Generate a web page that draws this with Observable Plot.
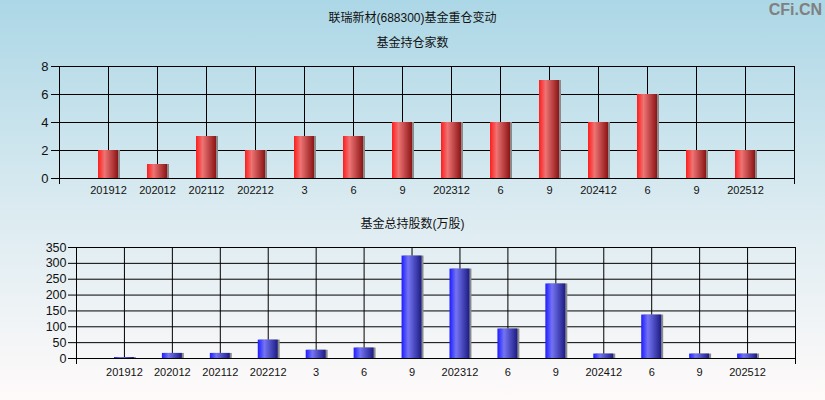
<!DOCTYPE html>
<html>
<head>
<meta charset="utf-8">
<script src="https://cdn.jsdelivr.net/npm/d3@7"></script>
<script src="https://cdn.jsdelivr.net/npm/@observablehq/plot@0.6"></script>
<style>
  html, body { margin: 0; padding: 0; }
  body { width: 825px; height: 400px; overflow: hidden; position: relative;
         background: linear-gradient(to bottom, #acd7e6 0%, #d9eaf0 50%, #fffafa 100%);
         font-family: "Liberation Sans", Arial, "Noto Sans CJK SC", sans-serif; }
  .t { position: absolute; left: 0; width: 825px; text-align: center; font-size: 12px; color: #111;
       font-family: "Liberation Sans", "Noto Sans CJK SC", sans-serif; line-height: 14px; }
  .chart { position: absolute; left: 0; }
  #wm { position: absolute; right: 3px; top: 1px; font: bold 16px "Liberation Sans", Arial, sans-serif; color: #808080; }
</style>
</head>
<body>
<div class="t" style="top:11px">联瑞新材(688300)基金重仓变动</div>
<div class="t" style="top:36px">基金持仓家数</div>
<div class="t" style="top:217px">基金总持股数(万股)</div>
<div id="wm">CFi.CN</div>
<div id="c1" class="chart" style="top:0px"></div>
<div id="c2" class="chart" style="top:200px"></div>
<script>
const labels = ["201912","202012","202112","202212","3","6","9","202312","6","9","202412","6","9","202512"];
const fundCounts = [2,1,3,2,3,3,4,4,4,7,4,6,2,2];
const fundShares = [3,16,16,58,26,33,323,282,93,235,14,137,14,14];
const countTicks = [0,2,4,6,8];
const shareTicks = [0,50,100,150,200,250,300,350];

function addGradient(svg, id, c0, c1, c2) {
  const g = d3.select(svg).insert("defs", ":first-child")
    .append("linearGradient").attr("id", id)
    .attr("x1", "0%").attr("x2", "100%").attr("y1", "0%").attr("y2", "0%");
  g.append("stop").attr("offset", "0%").attr("stop-color", c0);
  g.append("stop").attr("offset", "33%").attr("stop-color", c1);
  g.append("stop").attr("offset", "100%").attr("stop-color", c2);
}

function makeChart(values, yTicks, yMax, gradId, opts) {
  const n = labels.length;
  const data = values.map((v, k) => ({i: k + 1, v}));
  const idx = data.map(d => d.i);
  const inset = opts.inset;
  const svg = Plot.plot({
    width: 825,
    height: 200,
    marginTop: opts.mt,
    marginBottom: opts.mb,
    marginLeft: opts.ml,
    marginRight: opts.mr,
    style: {background: "transparent", fontFamily: "'Liberation Sans', Arial, sans-serif", color: "#111"},
    x: {domain: [0, n + 1]},
    y: {domain: [0, yMax]},
    marks: [
      Plot.gridY(yTicks, {stroke: "#000", strokeOpacity: 1, strokeWidth: 1}),
      Plot.gridX(idx, {stroke: "#000", strokeOpacity: 1, strokeWidth: 1}),
      Plot.rectY(data, {x1: d => d.i - 0.5, x2: d => d.i + 0.5, y: "v", insetLeft: inset, insetRight: inset, dx: 2, fill: "#8a8a8a"}),
      Plot.rectY(data, {x1: d => d.i - 0.5, x2: d => d.i + 0.5, y: "v", insetLeft: inset, insetRight: inset, fill: `url(#${gradId})`}),
      Plot.frame({stroke: "#000", strokeWidth: 1}),
      Plot.axisY(yTicks, {tickSize: 8, tickPadding: opts.yPad, fontSize: opts.yFont, stroke: "#000", label: null}),
      Plot.axisX([0, n + 1], {tickSize: 6, tickFormat: () => "", stroke: "#000", label: null}),
      Plot.axisX(idx, {tickSize: 0, tickPadding: opts.xPad, fontSize: 11, tickFormat: i => labels[i - 1], label: null})
    ]
  });
  addGradient(svg, gradId, opts.c0, opts.c1, opts.c2);
  return svg;
}

document.getElementById("c1").appendChild(makeChart(fundCounts, countTicks, 8, "redGrad",
  {mt: 66, mb: 22, ml: 59, mr: 31, inset: 14.5, yPad: 3, yFont: 13, xPad: 8,
   c0: "#ff1c1c", c1: "#ee7474", c2: "#8c1414"}));
document.getElementById("c2").appendChild(makeChart(fundShares, shareTicks, 350, "blueGrad",
  {mt: 47, mb: 42, ml: 76, mr: 30, inset: 14, yPad: 2, yFont: 12.5, xPad: 10,
   c0: "#1c1cff", c1: "#7474f4", c2: "#1c1c84"}));
</script>
</body>
</html>
